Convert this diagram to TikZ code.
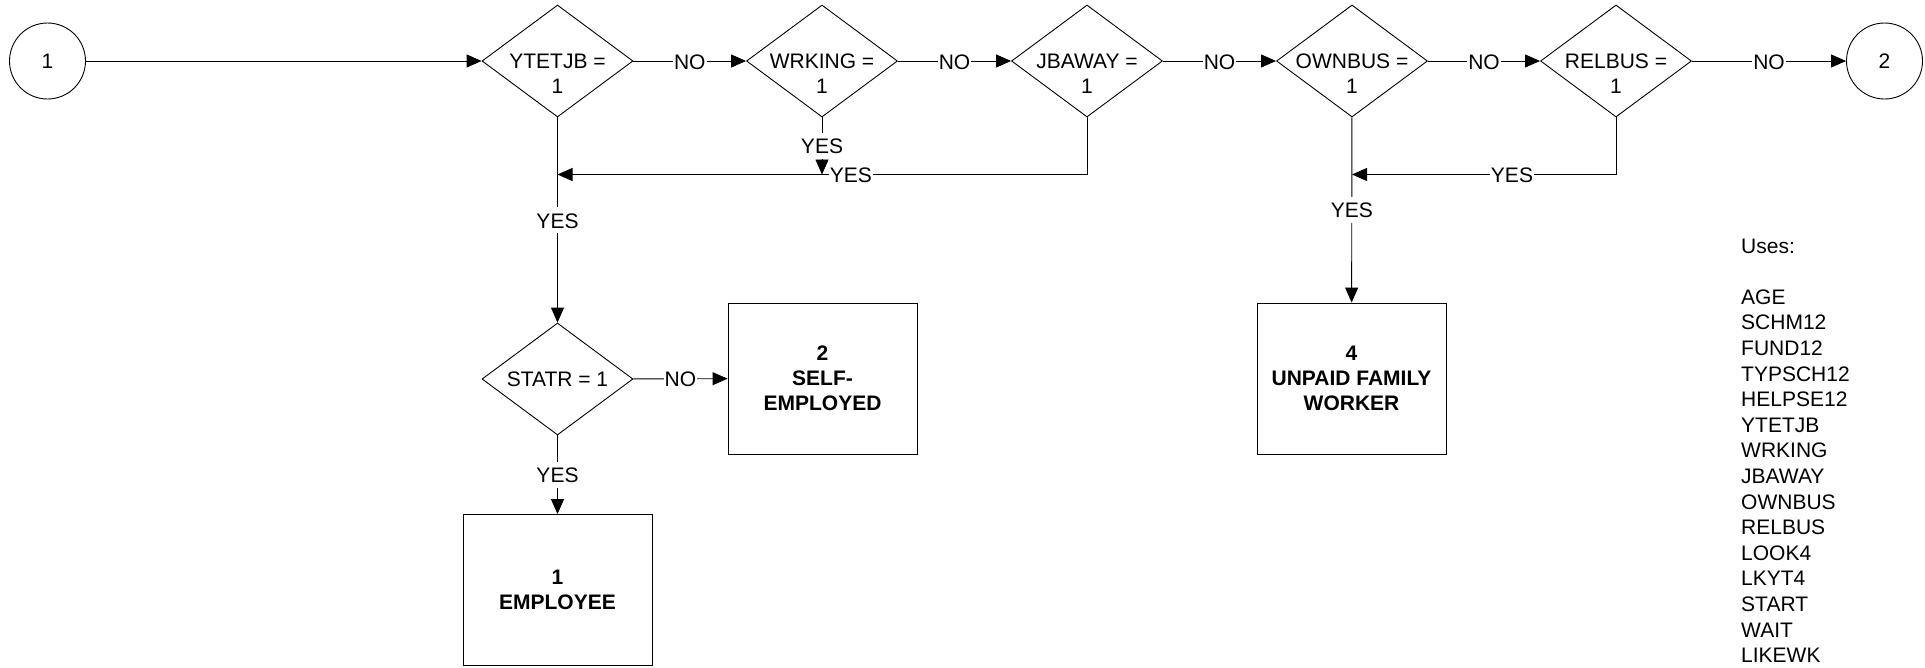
\documentclass[tikz,border=0pt]{standalone}
\usepackage{fontspec}
\setmainfont{Liberation Sans}
\usetikzlibrary{shapes.geometric,arrows.meta,calc}
\begin{document}
\begin{tikzpicture}[x=1pt,y=-1pt,
  every node/.style={font=\fontsize{21}{25}\selectfont},
  dec/.style={draw, diamond, minimum width=151pt, minimum height=112pt, inner sep=0pt, line width=0.9pt},
  dtext/.style={align=center, inner sep=0pt},
  outbox/.style={draw, rectangle, minimum width=189pt, minimum height=151pt, align=center, font=\fontsize{21}{25}\selectfont\bfseries, line width=0.9pt},
  conn/.style={draw, circle, minimum size=76pt, inner sep=0pt, line width=0.9pt},
  arr/.style={-{Triangle[length=15pt,width=13pt]}, line width=0.9pt},
  lbl/.style={fill=white, inner xsep=1pt, inner ysep=1pt, text height=20pt, text depth=4pt},
  uses/.style={anchor=base west, inner sep=0pt}
]
\useasboundingbox (0,0) rectangle (1925,667);

% top row
\node[conn] (c1) at (47.5,61) {1};
\node[dec] (d1) at (557.5,61) {};
\node[dec] (d2) at (822,61) {};
\node[dec] (d3) at (1087,61) {};
\node[dec] (d4) at (1352,61) {};
\node[dec] (d5) at (1616,61) {};
\node[conn] (c2) at (1884.5,61) {2};

\node[dtext] (t1) at (557.5,73.5) {YTETJB =\\1};
\node[dtext] (t2) at (822,73.5) {WRKING =\\1};
\node[dtext] (t3) at (1087,73.5) {JBAWAY =\\1};
\node[dtext] (t4) at (1352,73.5) {OWNBUS =\\1};
\node[dtext] (t5) at (1616,73.5) {RELBUS =\\1};

% second decision
\node[dec] (d6) at (557.5,379) {};
\node[dtext] (t6) at (557.5,379) {STATR = 1};

% outcome boxes
\node[outbox] (r1) at (557.5,590) {1\\EMPLOYEE};
\node[outbox] (r2) at (822.5,378.5) {2\\SELF-\\EMPLOYED};
\node[outbox] (r4) at (1351.5,378.5) {4\\UNPAID FAMILY\\WORKER};

% junction points
\coordinate (j1) at (557.5,174.5);
\coordinate (j2) at (822,174.5);
\coordinate (j4) at (1352,174.5);

% connectors
\draw[arr] (c1) -- (d1);
\draw[arr] (d1) -- node[lbl]{NO} (d2);
\draw[arr] (d2) -- node[lbl]{NO} (d3);
\draw[arr] (d3) -- node[lbl]{NO} (d4);
\draw[arr] (d4) -- node[lbl]{NO} (d5);
\draw[arr] (d5) -- node[lbl]{NO} (c2);

\draw[arr] (d1) -- node[lbl]{YES} (d6);
\draw[arr] (d6) -- node[lbl]{YES} (r1);
\draw[arr] (d6) -- node[lbl]{NO} (r2);
\draw[arr] (d2) -- node[lbl]{YES} (j2);
\draw[arr] (d3) |- node[lbl,pos=0.723]{YES} (j1);
\draw[arr] (d4) -- node[lbl]{YES} (r4);
\draw[arr] (d5) |- node[lbl,pos=0.697]{YES} (j4);

% uses list
\node[uses] (u0) at (1741,253) {Uses:};
\foreach \t [count=\i] in {AGE,SCHM12,FUND12,TYPSCH12,HELPSE12,YTETJB,WRKING,JBAWAY,OWNBUS,RELBUS,LOOK4,LKYT4,START,WAIT,LIKEWK}
  \node[uses] (u\i) at (1741,{278.6+25.6*\i}) {\t};
\end{tikzpicture}
\end{document}
